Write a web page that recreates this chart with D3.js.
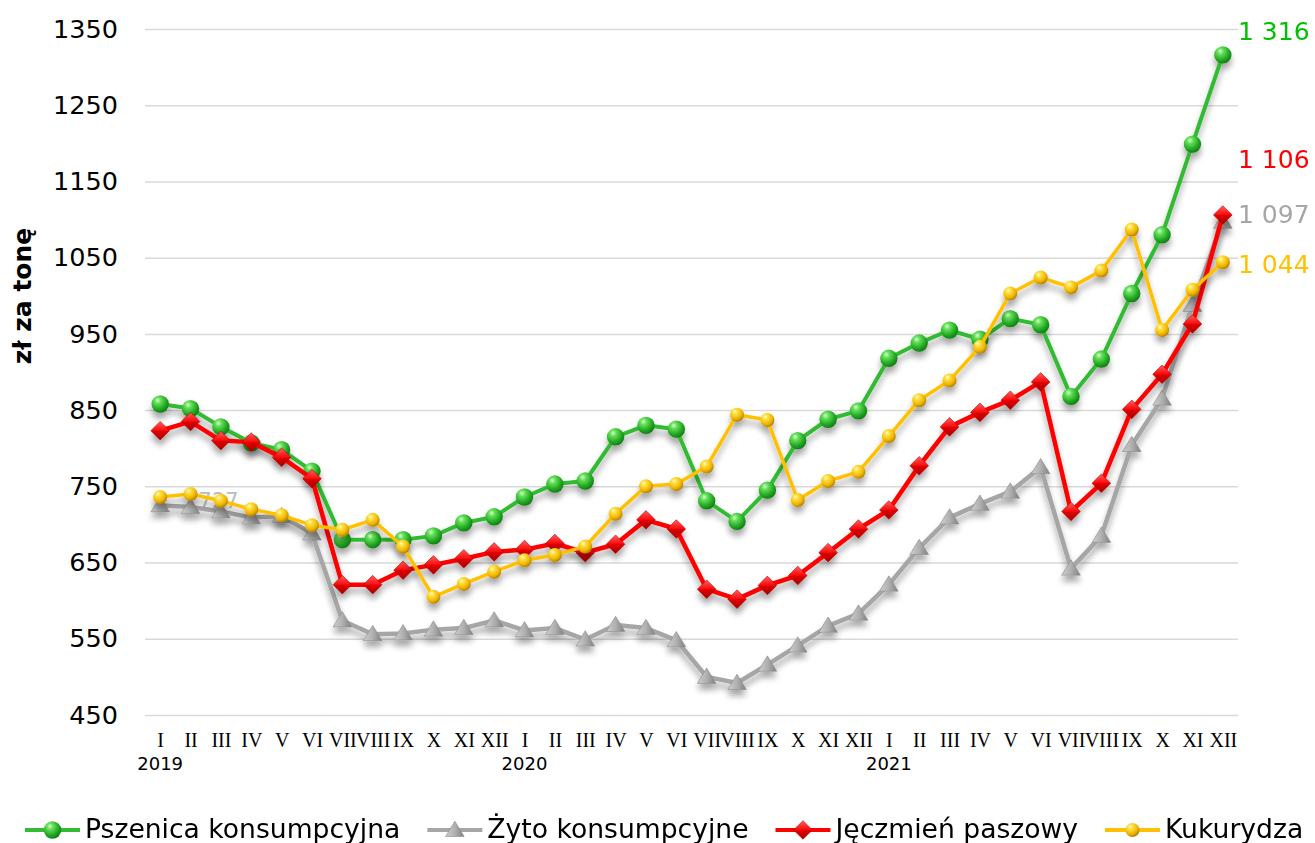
<!DOCTYPE html>
<html><head><meta charset="utf-8">
<script src="https://cdn.jsdelivr.net/npm/d3@7/dist/d3.min.js"></script>
<style>body{margin:0;background:#fff}svg{display:block}</style>
</head><body><svg id="chart" width="1315" height="843"></svg>
<script>
// ---- data ----
const months = ["I","II","III","IV","V","VI","VII","VIII","IX","X","XI","XII"];
const categories = [...months, ...months, ...months];
const years = ["2019","2020","2021"];
const yearIndex = [0, 12, 24];
const yTicks = [450,550,650,750,850,950,1050,1150,1250,1350];

const pszenica  = [858,852,828,807,798,770,680,680,680,685,702,710, 736,753,757,815,830,825,731,704,745,810,838,849, 918,938,955,943,970,962,868,917,1003,1080,1199,1316];
const zyto      = [725,723,717,709,711,688,574,556,557,562,564,574, 561,564,549,568,564,548,500,492,516,541,567,583, 621,669,709,727,743,775,642,685,804,865,988,1097];
const jeczmien  = [823,835,810,808,788,760,621,621,640,647,655,664, 667,675,663,674,706,694,615,602,620,633,663,694, 719,777,828,847,863,887,717,754,851,897,963,1106];
const kukurydza = [736,740,731,720,712,699,693,706,671,605,622,638, 653,660,671,714,750,753,776,844,837,732,757,769, 816,863,889,933,1003,1024,1011,1033,1087,955,1008,1044];
const seriesNames = ["Pszenica konsumpcyjna","Żyto konsumpcyjne","Jęczmień paszowy","Kukurydza"];
const endLabels = ["1 316","1 097","1 106","1 044"];
const strayLabel = {index: 1, text: "727"};

// ---- styles ----
const series = [
  {name: seriesNames[0], values: pszenica,  color:"#33bb33", labelColor:"#00c000", marker:"sphere", grad:"gG", r:8.7, width:4,   labelDy:-15, label:endLabels[0]},
  {name: seriesNames[1], values: zyto,      color:"#a6a6a6", labelColor:"#a6a6a6", marker:"triangle", grad:"gT", r:9.3, width:4.5, labelDy:1, label:endLabels[1]},
  {name: seriesNames[2], values: jeczmien,  color:"#ff0000", labelColor:"#ff0000", marker:"diamond", grad:"gD", r:9.3, width:4.5,  labelDy:-47, label:endLabels[2]},
  {name: seriesNames[3], values: kukurydza, color:"#ffc000", labelColor:"#ffc000", marker:"sphere", grad:"gY", r:7, width:3.5, labelDy:11, label:endLabels[3]}
];

const svg = d3.select("#chart");
const defs = svg.append("defs");
function radial(id, stops){
  const g = defs.append("radialGradient").attr("id", id).attr("cx","38%").attr("cy","32%").attr("r","70%").attr("fx","35%").attr("fy","28%");
  stops.forEach(([o,c]) => g.append("stop").attr("offset",o).attr("stop-color",c));
}
radial("gG", [["0%","#d8ffd0"],["25%","#66e05a"],["70%","#22a822"],["100%","#137a13"]]);
radial("gY", [["0%","#fffbd0"],["25%","#ffe040"],["70%","#f0b400"],["100%","#b07d00"]]);
const lgD = defs.append("linearGradient").attr("id","gD").attr("x1","0").attr("y1","0").attr("x2","0").attr("y2","1");
[["0%","#ff6060"],["45%","#ff1010"],["55%","#dd0000"],["100%","#a80000"]].forEach(([o,c])=>lgD.append("stop").attr("offset",o).attr("stop-color",c));
const lgT = defs.append("linearGradient").attr("id","gT").attr("x1","0").attr("y1","0").attr("x2","1").attr("y2","0");
[["0%","#cfcfcf"],["50%","#b0b0b0"],["100%","#808080"]].forEach(([o,c])=>lgT.append("stop").attr("offset",o).attr("stop-color",c));
const f = defs.append("filter").attr("id","shadow").attr("x","-20%").attr("y","-20%").attr("width","140%").attr("height","150%");
f.append("feGaussianBlur").attr("in","SourceAlpha").attr("stdDeviation",3).attr("result","b");
f.append("feOffset").attr("in","b").attr("dx",0).attr("dy",6).attr("result","o");
f.append("feComponentTransfer").attr("in","o").attr("result","s").append("feFuncA").attr("type","linear").attr("slope",0.35);
const fm = f.append("feMerge"); fm.append("feMergeNode").attr("in","s"); fm.append("feMergeNode").attr("in","SourceGraphic");

// ---- scales ----
const plotLeft = 145, plotRight = 1238, plotTop = 29, plotBottom = 715;
const x = d3.scalePoint().domain(d3.range(categories.length)).range([plotLeft, plotRight]).padding(0.5);
const y = d3.scaleLinear().domain([450, 1350]).range([plotBottom, plotTop]);

// grid + y axis
const yAxis = svg.append("g").attr("transform", `translate(${plotLeft},0)`)
  .call(d3.axisLeft(y).tickValues(yTicks).tickSize(-(plotRight-plotLeft)).tickPadding(27).tickFormat(d3.format("d")));
yAxis.select(".domain").remove();
yAxis.selectAll(".tick line").attr("stroke","#d9d9d9").attr("stroke-width",1.5);
yAxis.selectAll(".tick text").attr("font-family","DejaVu Sans, Verdana, sans-serif").attr("font-size",25.5).attr("fill","#000");

// x axis
const xAxis = svg.append("g").attr("transform", `translate(0,${plotBottom})`)
  .call(d3.axisBottom(x).tickSize(0).tickPadding(18).tickFormat(i => categories[i]));
xAxis.select(".domain").remove();
xAxis.selectAll(".tick text").attr("font-family","Liberation Serif, Times New Roman, serif").attr("font-size",20).attr("fill","#000");
svg.append("g").selectAll("text").data(years).join("text")
  .attr("x",(d,i)=>x(yearIndex[i])).attr("y", 770)
  .attr("text-anchor","middle").attr("font-family","DejaVu Sans, Verdana, sans-serif").attr("font-size",18).text(d=>d);

// y title
svg.append("text").attr("transform","translate(31,296) rotate(-90)").attr("text-anchor","middle")
  .attr("font-family","DejaVu Sans, Verdana, sans-serif").attr("font-weight","bold").attr("font-size",25).text("zł za tonę");

// stray label
svg.append("text").attr("x", x(strayLabel.index)+8).attr("y", y(zyto[strayLabel.index])+1)
  .attr("font-family","DejaVu Sans, Verdana, sans-serif").attr("font-size",21).attr("fill","#bdbdbd").text(strayLabel.text);

function drawMarker(g, s){
  if (s.marker === "sphere") return g.append("circle").attr("r", s.r).attr("fill", `url(#${s.grad})`);
  if (s.marker === "diamond") return g.append("path").attr("d", `M0,${-s.r}L${s.r},0L0,${s.r}L${-s.r},0Z`).attr("fill", `url(#${s.grad})`).attr("stroke","#b00000").attr("stroke-width",0.6);
  return g.append("path").attr("d", `M0,${-s.r*0.95}L${s.r},${s.r*0.7}L${-s.r},${s.r*0.7}Z`).attr("fill", `url(#${s.grad})`).attr("stroke","#8a8a8a").attr("stroke-width",0.6);
}

const line = d3.line().x((d,i)=>x(i)).y(d=>y(d));
series.forEach(s => {
  const g = svg.append("g").attr("filter","url(#shadow)");
  g.append("path").attr("d", line(s.values)).attr("fill","none").attr("stroke", s.color).attr("stroke-width", s.width).attr("stroke-linejoin","round");
  s.values.forEach((v,i) => {
    const m = g.append("g").attr("transform", `translate(${x(i)},${y(v)})`);
    drawMarker(m, s);
  });
});
series.forEach(s => {
  const last = s.values.length - 1;
  svg.append("text").attr("x", plotRight).attr("y", y(s.values[last]) + s.labelDy)
    .attr("font-family","DejaVu Sans, Verdana, sans-serif").attr("font-size",25).attr("fill", s.labelColor).text(s.label);
});

// legend
const legend = svg.append("g");
let lx = 25; const ly = 830;
series.forEach(s => {
  const it = legend.append("g");
  it.append("line").attr("x1", lx).attr("x2", lx+55).attr("y1", ly).attr("y2", ly).attr("stroke", s.color).attr("stroke-width", 4);
  const m = it.append("g").attr("transform", `translate(${lx+27.5},${ly})`);
  drawMarker(m, s);
  const t = it.append("text").attr("x", lx+60).attr("y", 838)
    .attr("font-family","DejaVu Sans, Verdana, sans-serif").attr("font-size",26.6).attr("fill","#000").text(s.name);
  lx = lx + 60 + t.node().getComputedTextLength() + 27;
});
</script></body></html>
